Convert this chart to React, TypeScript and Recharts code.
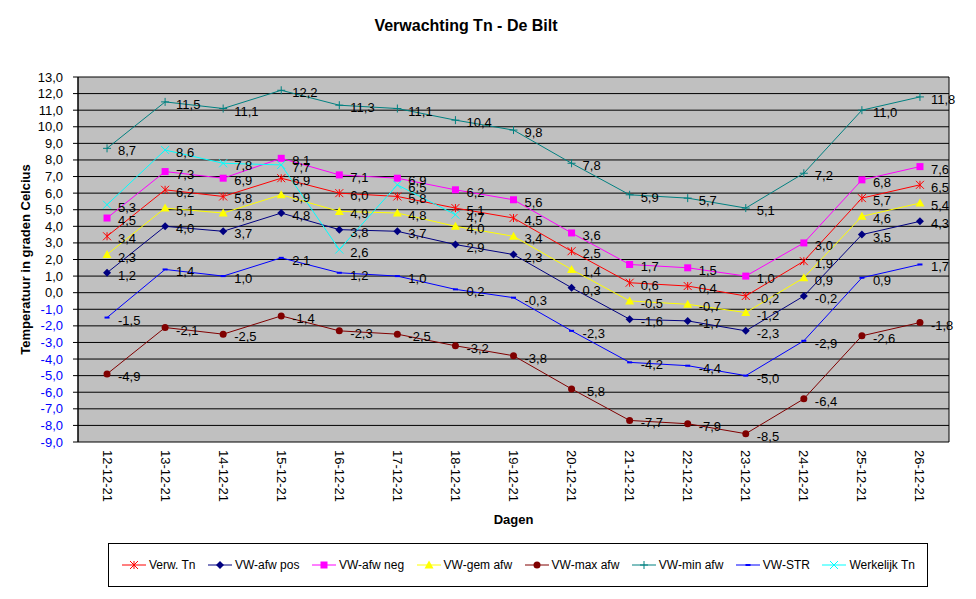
import React from 'react';
import { LineChart, Line, XAxis, YAxis, CartesianGrid, LabelList } from 'recharts';

const FONT = 'Arial, "Liberation Sans", sans-serif';

const dates = [
    '12-12-21', '13-12-21', '14-12-21', '15-12-21', '16-12-21', '17-12-21', '18-12-21', '19-12-21',
    '20-12-21', '21-12-21', '22-12-21', '23-12-21', '24-12-21', '25-12-21', '26-12-21',
];
const verwTn = [3.4, 6.2, 5.8, 6.9, 6.0, 5.8, 5.1, 4.5, 2.5, 0.6, 0.4, -0.2, 1.9, 5.7, 6.5];
const afwPos = [1.2, 4.0, 3.7, 4.8, 3.8, 3.7, 2.9, 2.3, 0.3, -1.6, -1.7, -2.3, -0.2, 3.5, 4.3];
const afwNeg = [4.5, 7.3, 6.9, 8.1, 7.1, 6.9, 6.2, 5.6, 3.6, 1.7, 1.5, 1.0, 3.0, 6.8, 7.6];
const gemAfw = [2.3, 5.1, 4.8, 5.9, 4.9, 4.8, 4.0, 3.4, 1.4, -0.5, -0.7, -1.2, 0.9, 4.6, 5.4];
const maxAfw = [-4.9, -2.1, -2.5, -1.4, -2.3, -2.5, -3.2, -3.8, -5.8, -7.7, -7.9, -8.5, -6.4, -2.6, -1.8];
const minAfw = [8.7, 11.5, 11.1, 12.2, 11.3, 11.1, 10.4, 9.8, 7.8, 5.9, 5.7, 5.1, 7.2, 11.0, 11.8];
const vwStr = [-1.5, 1.4, 1.0, 2.1, 1.2, 1.0, 0.2, -0.3, -2.3, -4.2, -4.4, -5.0, -2.9, 0.9, 1.7];
const werkelijkTn = [5.3, 8.6, 7.8, 7.7, 2.6, 6.5, 4.7, null, null, null, null, null, null, null, null];

const yTicks = [-9, -8, -7, -6, -5, -4, -3, -2, -1, 0, 1, 2, 3, 4, 5, 6, 7, 8, 9, 10, 11, 12, 13];

const series = [
    { key: 'verw', name: 'Verw. Tn', color: '#FF0000', marker: 'star', values: verwTn },
    { key: 'pos', name: 'VW-afw pos', color: '#000080', marker: 'diamond', values: afwPos },
    { key: 'neg', name: 'VW-afw neg', color: '#FF00FF', marker: 'square', values: afwNeg },
    { key: 'gem', name: 'VW-gem afw', color: '#FFFF00', marker: 'triangle', values: gemAfw },
    { key: 'max', name: 'VW-max afw', color: '#800000', marker: 'circle', values: maxAfw },
    { key: 'min', name: 'VW-min afw', color: '#008080', marker: 'plus', values: minAfw },
    { key: 'str', name: 'VW-STR', color: '#0000FF', marker: 'dash', values: vwStr },
    { key: 'werk', name: 'Werkelijk Tn', color: '#00FFFF', marker: 'cross', values: werkelijkTn },
];

const data = dates.map((date, i) => {
    const row: any = { i, date };
    series.forEach((s) => { row[s.key] = s.values[i]; });
    return row;
});

const xTicks = dates.map((_, i) => i);
const xBounds = [...dates.map((_, i) => i - 0.5), dates.length - 0.5];

const fmt = (v: number) => v.toFixed(1).replace('.', ',');

function Marker({ type, cx, cy, color }: any) {
    switch (type) {
        case 'star':
            return (
                <g stroke={color} strokeWidth={1}>
                    <line x1={cx - 4} y1={cy - 4} x2={cx + 4} y2={cy + 4} />
                    <line x1={cx - 4} y1={cy + 4} x2={cx + 4} y2={cy - 4} />
                    <line x1={cx} y1={cy - 4} x2={cx} y2={cy + 4} />
                </g>
            );
        case 'diamond':
            return <polygon points={`${cx},${cy - 4} ${cx + 4},${cy} ${cx},${cy + 4} ${cx - 4},${cy}`} fill={color} />;
        case 'square':
            return <rect x={cx - 3.5} y={cy - 3.5} width={7} height={7} fill={color} />;
        case 'triangle':
            return <polygon points={`${cx},${cy - 4.5} ${cx + 4.5},${cy + 3.5} ${cx - 4.5},${cy + 3.5}`} fill={color} />;
        case 'circle':
            return <circle cx={cx} cy={cy} r={3.5} fill={color} />;
        case 'plus':
            return (
                <g stroke={color} strokeWidth={1}>
                    <line x1={cx - 4} y1={cy} x2={cx + 4} y2={cy} />
                    <line x1={cx} y1={cy - 4} x2={cx} y2={cy + 4} />
                </g>
            );
        case 'dash':
            return <rect x={cx - 2.5} y={cy - 1} width={5} height={2} fill={color} />;
        case 'cross':
            return (
                <g stroke={color} strokeWidth={1}>
                    <line x1={cx - 4} y1={cy - 4} x2={cx + 4} y2={cy + 4} />
                    <line x1={cx - 4} y1={cy + 4} x2={cx + 4} y2={cy - 4} />
                </g>
            );
        default:
            return null;
    }
}

const renderValueLabel = (props: any) => {
    const { x, y, value } = props;
    if (value == null || x == null || y == null) return null;
    return (
        <text x={x + 11} y={y + 7} fontSize={13} fontFamily={FONT} fill="#000">
            {fmt(value)}
        </text>
    );
};

const YTick = ({ x, y, payload }: any) => (
    <text
        x={x}
        y={y}
        dy={4.5}
        textAnchor="end"
        fontSize={13}
        fontFamily={FONT}
        fill={payload.value < 0 ? '#0000FF' : '#000'}
    >
        {fmt(payload.value)}
    </text>
);

const XTick = ({ x, y, payload }: any) => (
    <g transform={`translate(${x},${y})`}>
        <text transform="rotate(90)" x={0} y={0} dy={4.5} textAnchor="start" fontSize={13} fontFamily={FONT} fill="#000">
            {dates[payload.value]}
        </text>
    </g>
);

function Legend() {
    return (
        <div
            style={{
                position: 'absolute',
                left: 108,
                top: 543,
                width: 820,
                height: 44,
                border: '1px solid #000',
                boxSizing: 'border-box',
                display: 'flex',
                alignItems: 'center',
                justifyContent: 'center',
                gap: 11.5,
                fontFamily: FONT,
                fontSize: 12,
            }}
        >
            {series.map((s) => (
                <div key={s.key} style={{ display: 'flex', alignItems: 'center' }}>
                    <svg width={26} height={12}>
                        <line x1={1} y1={6} x2={25} y2={6} stroke={s.color} strokeWidth={1} />
                        <Marker type={s.marker} cx={13} cy={6} color={s.color} />
                    </svg>
                    <span style={{ marginLeft: 2 }}>{s.name}</span>
                </div>
            ))}
        </div>
    );
}

export default function App() {
    return (
        <div style={{ position: 'absolute', left: 0, top: 0, width: 976, height: 599, background: '#fff', fontFamily: FONT }}>
            <div
                style={{
                    position: 'absolute',
                    left: 0,
                    top: 17,
                    width: 932,
                    textAlign: 'center',
                    fontWeight: 'bold',
                    fontSize: 16,
                }}
            >
                Verwachting Tn - De Bilt
            </div>
            <LineChart width={976} height={599} data={data} margin={{ top: 77, right: 27, left: 18, bottom: 75 }}>
                <CartesianGrid xAxisId="b" stroke="#000" fill="#C0C0C0" fillOpacity={1} />
                <XAxis
                    xAxisId="b"
                    type="number"
                    dataKey="i"
                    domain={[-0.5, dates.length - 0.5]}
                    ticks={xBounds}
                    interval={0}
                    tick={false}
                    tickSize={5}
                    stroke="#000"
                    height={0}
                />
                <XAxis
                    xAxisId="x"
                    type="number"
                    dataKey="i"
                    domain={[-0.5, dates.length - 0.5]}
                    ticks={xTicks}
                    interval={0}
                    tick={<XTick />}
                    tickLine={false}
                    axisLine={false}
                    tickMargin={2}
                    height={82}
                    label={{ value: 'Dagen', position: 'insideBottom', offset: 0, fontWeight: 'bold', fontSize: 13, fill: '#000' }}
                />
                <YAxis
                    type="number"
                    domain={[-9, 13]}
                    ticks={yTicks}
                    interval={0}
                    tick={<YTick />}
                    tickSize={5}
                    tickMargin={10}
                    stroke="#000"
                    width={60}
                    label={{
                        value: 'Temperatuur in graden Celcius',
                        angle: -90,
                        position: 'insideLeft',
                        offset: 7,
                        fontWeight: 'bold',
                        fontSize: 13,
                        fill: '#000',
                        style: { textAnchor: 'middle' },
                    }}
                />
                {series.map((s) => (
                    <Line
                        key={s.key}
                        xAxisId="x"
                        type="linear"
                        dataKey={s.key}
                        name={s.name}
                        stroke={s.color}
                        strokeWidth={1}
                        isAnimationActive={false}
                        dot={(p: any) =>
                            p.cx == null || p.cy == null || p.value == null ? (
                                <g key={`${s.key}-${p.index}`} />
                            ) : (
                                <g key={`${s.key}-${p.index}`}>
                                    <Marker type={s.marker} cx={p.cx} cy={p.cy} color={s.color} />
                                </g>
                            )
                        }
                        activeDot={false}
                    >
                        <LabelList dataKey={s.key} content={renderValueLabel} />
                    </Line>
                ))}
            </LineChart>
            <Legend />
        </div>
    );
}
